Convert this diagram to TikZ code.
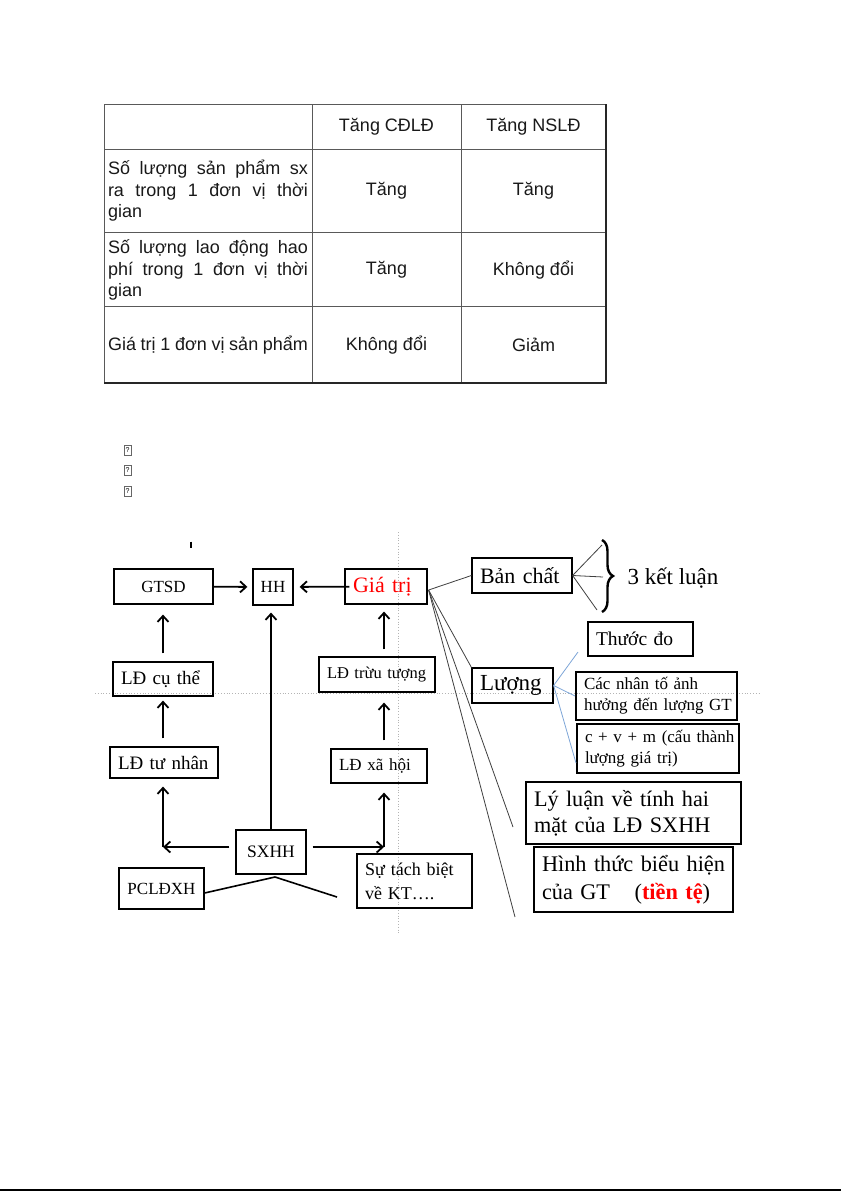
\documentclass[tikz,border=0pt]{standalone}
\usepackage{fontspec}
\setmainfont{Liberation Serif}
\newfontfamily\tabfont{Liberation Sans}
\usepackage{xcolor}
\usetikzlibrary{arrows.meta, calc, decorations.pathreplacing}
\definecolor{slideblue}{HTML}{7EA6D8}
\definecolor{guidegray}{HTML}{B4B4B4}
\newcommand{\setfs}[2]{\fontsize{#1}{#2}\selectfont}
\tikzset{
  box/.style     = {draw=black, line width=1.2pt, inner xsep=8pt, inner ysep=0pt, align=left},
  cbox/.style    = {draw=black, line width=1.2pt, inner sep=0pt, align=center},
  arr/.style     = {-{Straight Barb[length=6pt, width=11pt]}, line width=1.8pt},
  fanline/.style = {line width=0.8pt, black!75},
  blueline/.style= {line width=0.8pt, slideblue},
  guide/.style   = {guidegray, dotted, line width=0.8pt},
  tri/.style     = {line width=1.6pt},
  cell/.style    = {font=\tabfont\setfs{18}{21.5}, text=black!90, inner sep=0pt},
  rowhead/.style = {cell, text width=200pt, align=justify},
  tabline/.style = {black!65, line width=1pt},
  glyph/.style   = {draw=black!60, line width=0.6pt, minimum width=7pt, minimum height=10pt,
                    inner sep=0pt, font=\tabfont\setfs{7}{8}},
}

\begin{document}
\begin{tikzpicture}[x=1pt, y=-1pt]

  \fill[white] (0,0) rectangle (841,1191);
  \useasboundingbox (0,0) rectangle (841,1191);

  % Table grid
  \draw[tabline] (104,104) rectangle (606,383);
  \draw[tabline] (312,104) -- (312,383);
  \draw[tabline] (461,104) -- (461,383);
  \draw[tabline] (104,149) -- (606,149);
  \draw[tabline] (104,232) -- (606,232);
  \draw[tabline] (104,306) -- (606,306);
  \draw[line width=1.6pt, black!85] (606,104) -- (606,383) -- (104,383);

  % Table texts
  \node[cell] (hcd) at (386.5,127) {Tăng CĐLĐ};
  \node[cell] (hns) at (533.5,127) {Tăng NSLĐ};
  \node[rowhead] (r1) at (208,191) {Số lượng sản phẩm sx\linebreak ra trong 1 đơn vị thời\linebreak gian};
  \node[rowhead] (r2) at (208,270) {Số lượng lao động hao\linebreak phí trong 1 đơn vị thời\linebreak gian};
  \node[rowhead] (r3) at (208,345) {Giá~trị~1~đơn~vị~sản~phẩm};
  \node[cell] (c11) at (386.5,191) {Tăng};
  \node[cell] (c12) at (533.5,191) {Tăng};
  \node[cell] (c21) at (386.5,270) {Tăng};
  \node[cell] (c22) at (533.5,270) {Không đổi};
  \node[cell] (c31) at (386.5,345) {Không đổi};
  \node[cell] (c32) at (533.5,345) {Giảm};

  % Missing glyphs
  \node[glyph] (g1) at (127.5,450) {?};
  \node[glyph] (g2) at (127.5,470.5) {?};
  \node[glyph] (g3) at (127.5,491) {?};

  % Slide guides
  \draw[guide] (95,693) -- (760,693);
  \draw[guide] (398,532) -- (398,935);
  \draw[line width=2.4pt] (191,541.5) -- (191,547.5);

  % Left part of the diagram
  \node[cbox, minimum width=99pt, minimum height=35pt, font=\setfs{17}{20}] (gtsd) at (163.5,586.5) {GTSD};
  \node[cbox, minimum width=40pt, minimum height=36pt, font=\setfs{17}{20}] (hh) at (273,587) {HH};
  \node[box, text width=66pt, minimum height=35pt, font=\setfs{22}{26}, text=red] (gt) at (386,586.5) {Giá~trị};
  \node[box, text width=84pt, minimum height=34pt, font=\setfs{19}{23}] (ldct) at (163,679) {LĐ~cụ~thể};
  \node[box, text width=100pt, minimum height=35pt, font=\setfs{16.5}{20}] (ldtt) at (377,674.5) {LĐ~trừu~tượng};
  \node[box, text width=92pt, minimum height=31pt, font=\setfs{19}{23}] (ldtn) at (164,762.5) {LĐ~tư~nhân};
  \node[box, text width=80pt, minimum height=34pt, font=\setfs{17}{20}] (ldxh) at (379,766) {LĐ~xã~hội};
  \node[cbox, minimum width=70pt, minimum height=44pt, font=\setfs{17.5}{21}] (sxhh) at (271,852) {SXHH};
  \node[cbox, minimum width=85pt, minimum height=41pt, font=\setfs{17}{20}] (pcl) at (161.5,888.5) {PCLĐXH};
  \node[box, text width=99pt, minimum height=54pt, font=\setfs{18}{24}] (stb) at (414.5,881) {Sự~tách~biệt\\về~KT….};

  \coordinate (cl) at (163,847);
  \coordinate (cr) at (384,847);
  \coordinate (apex) at (275,877);
  \coordinate (stbl) at (337,897);

  % Arrows
  \draw[arr, shorten >=5pt] (gtsd) -- (hh);
  \draw[arr, shorten <=-5pt, shorten >=6pt] (gt) -- (hh);
  \draw[arr, shorten >=7pt] (sxhh.north) -- (sxhh.north |- hh.south);
  \draw[arr, shorten <=6pt] (sxhh.west |- cl) -- (cl);
  \draw[arr, shorten <=6pt] (sxhh.east |- cr) -- (cr);
  \draw[arr, shorten >=8pt] (cl) -- (cl |- ldtn.south);
  \draw[arr, shorten <=8pt, shorten >=4pt] (cl |- ldtn.north) -- (cl |- ldct.south);
  \draw[arr, shorten <=8pt, shorten >=10pt] (cl |- ldct.north) -- (cl |- gtsd.south);
  \draw[arr, shorten >=9pt] (cr) -- (cr |- ldxh.south);
  \draw[arr, shorten <=8pt, shorten >=10pt] (cr |- ldxh.north) -- (cr |- ldtt.south);
  \draw[arr, shorten <=7pt, shorten >=7pt] (cr |- ldtt.north) -- (cr |- gt.south);
  \draw[tri] ($(pcl.east)+(0,4.5)$) -- (apex) -- (stbl);

  % Right part of the diagram
  \node[box, text width=84pt, minimum height=35pt, font=\setfs{22}{26}] (bc) at (522,575.5) {Bản~chất};
  \node[inner sep=0pt, font=\setfs{23}{27}] (kl) at (673,578) {3 kết luận};
  \node[box, text width=65pt, minimum height=35pt, font=\setfs{23}{27}] (luong) at (512.5,685.5) {Lượng};
  \node[box, text width=89pt, minimum height=34pt, font=\setfs{19.5}{23}] (thd) at (640.5,639) {Thước~đo};
  \node[box, text width=145pt, minimum height=48pt, font=\setfs{17}{21}] (cnt) at (656.5,696) {Các~nhân~tố~ảnh\\hưởng~đến~lượng~GT};
  \node[box, text width=146pt, minimum height=49pt, font=\setfs{17}{21}] (cvm) at (658,748.5) {c~+~v~+~m~(cấu~thành\\lượng~giá~trị)};
  \node[box, text width=199pt, minimum height=62pt, font=\setfs{22.2}{26}] (lyl) at (633.5,813) {Lý~luận~về~tính~hai\\mặt~của~LĐ~SXHH};
  \node[box, text width=183pt, minimum height=65pt, font=\setfs{22.3}{28}] (htbh) at (633.5,879.5) {Hình~thức~biểu~hiện\\của~GT\hspace{1.1em}(\textbf{\color{red}tiền~tệ})};

  \coordinate (gtr) at ($(gt.east)+(1,3.5)$);
  \coordinate (lyend) at (513,827);
  \coordinate (htend) at (515,917);
  \coordinate (b1) at (602,545);
  \coordinate (b2) at (603,577);
  \coordinate (b3) at (597,610);
  \coordinate (t1) at (578,652);
  \coordinate (t2) at (575,696);
  \coordinate (t3) at (576,763);

  % Fans
  \draw[fanline] (gtr) -- (bc.west);
  \draw[fanline] (gtr) -- (luong.north west);
  \draw[fanline] (gtr) -- (lyend);
  \draw[fanline] (gtr) -- (htend);
  \draw[fanline] (bc.east) -- (b1);
  \draw[fanline] (bc.east) -- (b2);
  \draw[fanline] (bc.east) -- (b3);
  \draw[decorate, decoration={brace, amplitude=11pt}, line width=2.4pt] (602,540) -- (602,612);
  \draw[blueline] (luong.east) -- (t1);
  \draw[blueline] (luong.east) -- (t2);
  \draw[blueline] (luong.east) -- (t3);

  % Page edge
  \draw[line width=1.5pt] (0,1190) -- (841,1190);

\end{tikzpicture}
\end{document}
